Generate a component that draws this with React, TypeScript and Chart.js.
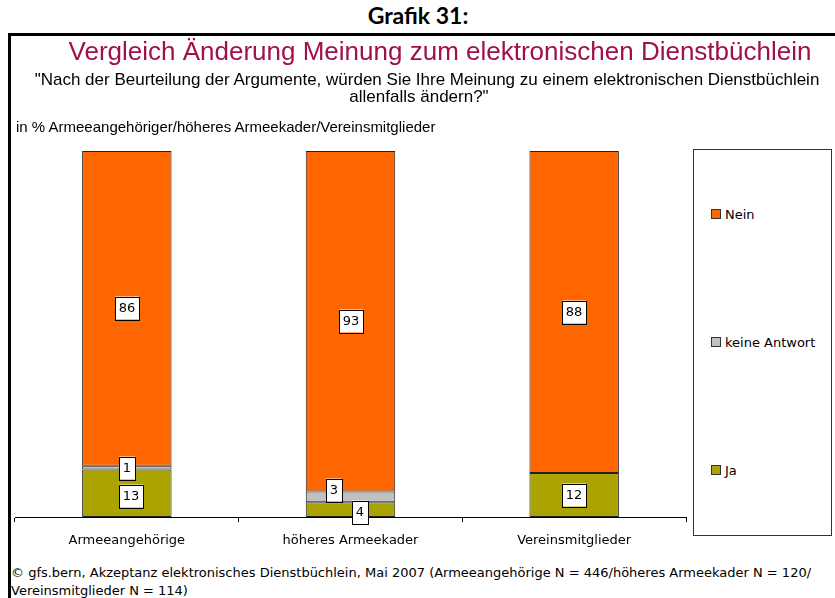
import React, { useEffect, useRef } from "react";
import { Chart, registerables } from "chart.js";

Chart.register(...registerables);

const categories = ["Armeeangehörige", "höheres Armeekader", "Vereinsmitglieder"];
const jaValues = [13, 4, 12];
const keineAntwortValues = [1, 3, 0];
const neinValues = [86, 93, 88];
const seriesNames = ["Ja", "keine Antwort", "Nein"];
const seriesColors = ["#ABA300", "#C0C0C0", "#FF6600"];

const TAHOMA = "'DejaVu Sans', Verdana, sans-serif";
const ARIAL = "'Liberation Sans', Arial, sans-serif";

const labelBoxPlugin = {
  id: "labelBoxes",
  afterDatasetsDraw(chart: any, _args: any, opts: any) {
    const ctx = chart.ctx;
    const nudge = (opts && opts.nudge) || {};
    ctx.save();
    ctx.font = `13px ${TAHOMA}`;
    ctx.textAlign = "center";
    ctx.textBaseline = "middle";
    chart.data.datasets.forEach((ds: any, di: number) => {
      const meta = chart.getDatasetMeta(di);
      meta.data.forEach((el: any, i: number) => {
        const v = ds.data[i];
        if (!v) return;
        const c = el.getCenterPoint();
        const n = nudge[`${di}-${i}`] || [0, 0];
        const x = Math.round(c.x + n[0]);
        const y = Math.round(c.y + n[1]);
        const text = String(v);
        const w = Math.ceil(ctx.measureText(text).width) + 7;
        const h = 23;
        ctx.fillStyle = "#ffffff";
        ctx.fillRect(x - w / 2, y - h / 2, w, h);
        ctx.strokeStyle = "#000000";
        ctx.lineWidth = 1;
        ctx.strokeRect(Math.round(x - w / 2) + 0.5, Math.round(y - h / 2) + 0.5, w, h);
        ctx.fillStyle = "#000000";
        ctx.fillText(text, x, y + 1);
      });
    });
    ctx.restore();
  },
};

export default function App() {
  const ref = useRef<HTMLCanvasElement | null>(null);

  useEffect(() => {
    if (!ref.current) return;
    const valueSets = [jaValues, keineAntwortValues, neinValues];
    const chart = new Chart(ref.current, {
      type: "bar",
      data: {
        labels: categories,
        datasets: seriesNames.map((name, k) => ({
          label: name,
          data: valueSets[k],
          backgroundColor: seriesColors[k],
          borderColor: "#222222",
          borderWidth: 1,
          borderSkipped: false,
          categoryPercentage: 0.4,
          barPercentage: 1,
        })),
      },
      options: {
        animation: false,
        responsive: false,
        maintainAspectRatio: false,
        layout: { padding: { left: 15, right: 4, top: 151, bottom: 13 } },
        plugins: {
          legend: { display: false },
          tooltip: { enabled: false },
          title: { display: false },
          labelBoxes: { nudge: { "0-0": [4, 3], "1-1": [-17, -7], "0-1": [9, 2] } },
        } as any,
        scales: {
          x: {
            stacked: true,
            offset: true,
            border: { display: true, color: "#000000", width: 1 },
            grid: {
              display: true,
              offset: true,
              drawOnChartArea: false,
              drawTicks: true,
              tickLength: 5,
              color: "#000000",
            },
            ticks: {
              color: "#000000",
              font: { family: TAHOMA, size: 13 },
              padding: 11,
              maxRotation: 0,
            },
            afterFit: (s: any) => {
              s.height = 30;
            },
          },
          y: {
            stacked: true,
            display: false,
            min: 0,
            max: 100,
          },
        },
      },
      plugins: [labelBoxPlugin],
    });
    return () => chart.destroy();
  }, []);

  const legendItems = [
    { k: 2, top: 208 },
    { k: 1, top: 336 },
    { k: 0, top: 464 },
  ];

  return (
    <div
      style={{
        position: "absolute",
        left: 0,
        top: 0,
        width: 835,
        height: 598,
        overflow: "hidden",
        background: "#ffffff",
      }}
    >
      <div
        style={{
          position: "absolute",
          left: 418,
          top: 2,
          transform: "translateX(-50%)",
          fontFamily: "Lato, 'Open Sans', sans-serif",
          fontWeight: 700,
          fontSize: 23,
          lineHeight: "26px",
          whiteSpace: "nowrap",
          color: "#000",
        }}
      >
        Grafik 31:
      </div>
      <div
        style={{
          position: "absolute",
          left: 8,
          top: 33,
          width: 840,
          height: 580,
          borderTop: "3px solid #000",
          borderLeft: "3px solid #000",
          boxSizing: "border-box",
        }}
      />
      <canvas
        ref={ref}
        width={690}
        height={560}
        style={{ position: "absolute", left: 0, top: 0, width: 690, height: 560 }}
      />
      <div
        style={{
          position: "absolute",
          left: 440,
          top: 36,
          transform: "translateX(-50%)",
          fontFamily: ARIAL,
          fontSize: 26,
          lineHeight: "30px",
          whiteSpace: "nowrap",
          color: "#A0104B",
        }}
      >
        Vergleich Änderung Meinung zum elektronischen Dienstbüchlein
      </div>
      <div
        style={{
          position: "absolute",
          left: 427,
          top: 70,
          transform: "translateX(-50%)",
          fontFamily: ARIAL,
          fontSize: 17,
          lineHeight: "19px",
          whiteSpace: "nowrap",
          color: "#000",
        }}
      >
        "Nach der Beurteilung der Argumente, würden Sie Ihre Meinung zu einem elektronischen Dienstbüchlein
      </div>
      <div
        style={{
          position: "absolute",
          left: 419,
          top: 87,
          transform: "translateX(-50%)",
          fontFamily: ARIAL,
          fontSize: 17,
          lineHeight: "19px",
          whiteSpace: "nowrap",
          color: "#000",
        }}
      >
        allenfalls ändern?"
      </div>
      <div
        style={{
          position: "absolute",
          left: 16,
          top: 118,
          fontFamily: ARIAL,
          fontSize: 15,
          lineHeight: "18px",
          whiteSpace: "nowrap",
          color: "#000",
        }}
      >
        in % Armeeangehöriger/höheres Armeekader/Vereinsmitglieder
      </div>
      <div
        style={{
          position: "absolute",
          left: 693,
          top: 149,
          width: 139,
          height: 387,
          border: "1px solid #333",
          boxSizing: "border-box",
        }}
      />
      {legendItems.map((it) => (
        <div
          key={it.k}
          style={{
            position: "absolute",
            left: 711,
            top: it.top,
            height: 12,
            display: "flex",
            alignItems: "center",
            fontFamily: TAHOMA,
            fontSize: 13,
            whiteSpace: "nowrap",
            color: "#000",
          }}
        >
          <span
            style={{
              display: "inline-block",
              width: 10,
              height: 10,
              boxSizing: "border-box",
              background: seriesColors[it.k],
              border: "1px solid #333",
              marginRight: 4,
            }}
          />
          {seriesNames[it.k]}
        </div>
      ))}
      <div
        style={{
          position: "absolute",
          left: 11,
          top: 564,
          fontFamily: TAHOMA,
          fontSize: 13,
          lineHeight: "18px",
          whiteSpace: "nowrap",
          color: "#000",
        }}
      >
        © gfs.bern, Akzeptanz elektronisches Dienstbüchlein, Mai 2007 (Armeeangehörige N = 446/höheres Armeekader N = 120/
        <br />
        Vereinsmitglieder N = 114)
      </div>
    </div>
  );
}
